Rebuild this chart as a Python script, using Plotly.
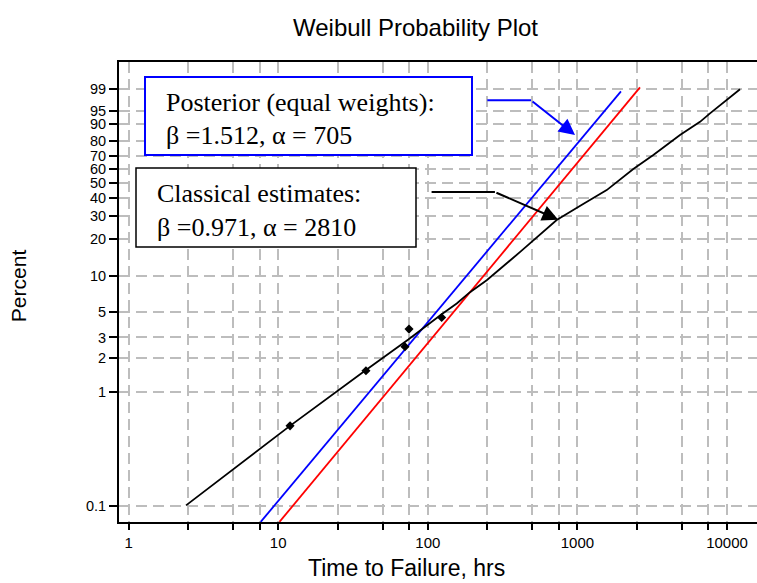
import numpy as np
import plotly.graph_objects as go

# ---------------- data ----------------
y_tick_percent = [0.1, 1, 2, 3, 5, 10, 20, 30, 40, 50, 60, 70, 80, 90, 95, 99]
y_tick_labels = ["0.1", "1", "2", "3", "5", "10", "20", "30", "40", "50",
                 "60", "70", "80", "90", "95", "99"]
x_grid_values = [1, 2.5, 5, 7.5, 10, 25, 50, 75, 100, 250, 500, 750,
                 1000, 2500, 5000, 7500, 10000]
x_tick_labels = ["1", "", "", "", "10", "", "", "", "100", "", "", "",
                 "1000", "", "", "", "10000"]

failure_times = [12.0, 38.6, 70.4, 74.9, 123.8]
failure_percent = [0.508, 1.54, 2.49, 3.54, 4.46]

classical_times = [2.42, 11.99, 38.0, 74.1, 123.8, 156.1, 191.5, 247.6, 420,
                   727, 1100, 1570, 2364, 3217, 4851, 6600, 7697, 9954, 12218]
classical_percent = [0.102, 0.508, 1.54, 2.88, 4.76, 5.88, 7.33, 9.24, 16.0,
                     27.9, 36.5, 45.1, 60.05, 70.4, 83.9, 90.8, 94.1, 97.5, 99.0]

posterior_times = [7.64, 1955]
posterior_percent = [0.073, 98.8]

red_times = [10.2, 2620]
red_percent = [0.073, 99.17]

# arrow paths (time, percent): start, kink, tip
blue_arrow_times = [250, 490, 964]
blue_arrow_percent = [97.5, 97.5, 83.9]
black_arrow_times = [106, 281, 745]
black_arrow_percent = [43.8, 43.8, 28.1]

posterior_lines = ["Posterior (equal weights):", "\u03b2 =1.512, \u03b1 = 705"]
classical_lines = ["Classical estimates:", "\u03b2 =0.971, \u03b1 = 2810"]


def wy(p):
    """Weibull probability-paper transform of a percent value."""
    p = np.asarray(p, dtype=float) / 100.0
    return np.log(-np.log(1.0 - p))


# ---------------- geometry ----------------
W, H = 757, 583
L, R, T, B = 119, 757, 62, 521.7


def px(xp):
    return (xp - L) / (R - L)


def py(yp):
    return (B - yp) / (B - T)


SANS = "Liberation Sans, Arial, sans-serif"
SERIF = "Liberation Serif, Times New Roman, serif"

fig = go.Figure()

fig.add_trace(go.Scatter(x=red_times, y=wy(red_percent), mode="lines",
                         line=dict(color="#ff0000", width=1.8)))
fig.add_trace(go.Scatter(x=posterior_times, y=wy(posterior_percent), mode="lines",
                         line=dict(color="#0000ff", width=1.8)))
fig.add_trace(go.Scatter(x=classical_times, y=wy(classical_percent), mode="lines",
                         line=dict(color="black", width=1.8)))
fig.add_trace(go.Scatter(x=failure_times, y=wy(failure_percent), mode="markers",
                         marker=dict(symbol="diamond", size=7, color="black")))

# arrow polylines
fig.add_trace(go.Scatter(x=blue_arrow_times[:2], y=wy(blue_arrow_percent[:2]),
                         mode="lines", line=dict(color="#0000ff", width=2)))
fig.add_trace(go.Scatter(x=black_arrow_times[:2], y=wy(black_arrow_percent[:2]),
                         mode="lines", line=dict(color="black", width=2)))

annotations = []
for times, pcts, col in [(blue_arrow_times, blue_arrow_percent, "#0000ff"),
                         (black_arrow_times, black_arrow_percent, "black")]:
    annotations.append(dict(
        x=np.log10(times[2]), y=float(wy(pcts[2])), xref="x", yref="y",
        ax=np.log10(times[1]), ay=float(wy(pcts[1])), axref="x", ayref="y",
        text="", showarrow=True, arrowhead=2, arrowsize=1.6, arrowwidth=2,
        arrowcolor=col, standoff=0))

# boxes
shapes = [
    dict(type="rect", xref="paper", yref="paper", x0=px(145), x1=px(472),
         y0=py(155), y1=py(77), fillcolor="white", line=dict(color="#0000ff", width=2),
         layer="above"),
    dict(type="rect", xref="paper", yref="paper", x0=px(136), x1=px(416),
         y0=py(247), y1=py(168), fillcolor="white", line=dict(color="black", width=1.5),
         layer="above"),
]

box_font = dict(family=SERIF, size=26, color="black")
for line, xp, yp in [(posterior_lines[0], 164, 102), (posterior_lines[1], 164, 135),
                     (classical_lines[0], 155, 193.5), (classical_lines[1], 155, 227)]:
    annotations.append(dict(text=line, xref="paper", yref="paper", x=px(xp), y=py(yp),
                            xanchor="left", yanchor="middle", align="left",
                            showarrow=False, font=box_font))

annotations += [
    dict(text="Weibull Probability Plot", xref="paper", yref="paper",
         x=px(415), y=py(28), xanchor="center", yanchor="middle", showarrow=False,
         font=dict(family=SANS, size=24, color="black")),
    dict(text="Time to Failure, hrs", xref="paper", yref="paper",
         x=px(406), y=py(568), xanchor="center", yanchor="middle", showarrow=False,
         font=dict(family=SANS, size=23, color="black")),
    dict(text="Percent", xref="paper", yref="paper", textangle=-90,
         x=px(18), y=py(286), xanchor="center", yanchor="middle", showarrow=False,
         font=dict(family=SANS, size=21, color="black")),
]

grid = dict(showgrid=True, gridcolor="#bdbdbd", gridwidth=2, griddash="11px,6px")

fig.update_xaxes(type="log", range=[(L - 128.6) / 149.6, (R - 128.6) / 149.6],
                 tickmode="array", tickvals=x_grid_values, ticktext=x_tick_labels,
                 ticks="outside", ticklen=6, tickwidth=1.5, tickcolor="black",
                 showline=True, linecolor="black", linewidth=2, mirror=True,
                 zeroline=False, tickfont=dict(family=SANS, size=15, color="black"),
                 **grid)

y_lo = 1.527 - (B - 89.3) / 49.41
y_hi = 1.527 + (89.3 - T) / 49.41
fig.update_yaxes(range=[y_lo, y_hi], tickmode="array",
                 tickvals=wy(y_tick_percent), ticktext=y_tick_labels,
                 ticks="outside", ticklen=8, tickwidth=1.5, tickcolor="black",
                 showline=True, linecolor="black", linewidth=2, mirror=False,
                 zeroline=False, tickfont=dict(family=SANS, size=14.5, color="black"),
                 **grid)

fig.update_layout(width=W, height=H, showlegend=False,
                  margin=dict(l=L, r=W - R, t=T, b=H - B),
                  plot_bgcolor="white", paper_bgcolor="white",
                  shapes=shapes, annotations=annotations)

fig.write_html("out.html", config={"displayModeBar": False},
               post_script="document.body.style.margin='0';"
                           "document.body.style.overflow='hidden';")
